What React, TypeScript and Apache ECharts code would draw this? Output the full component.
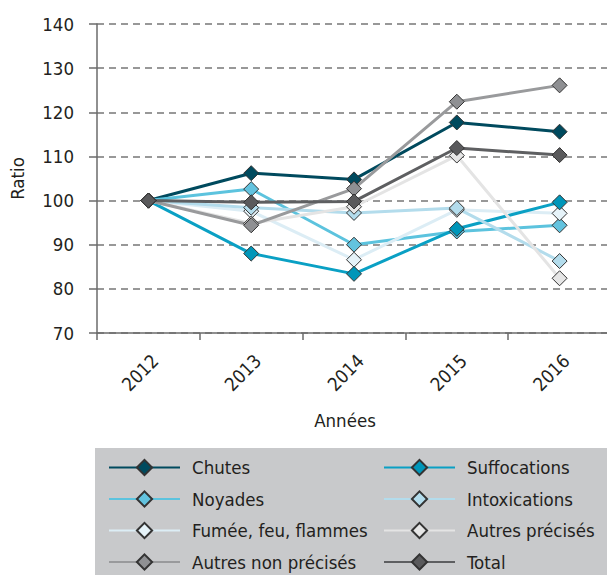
import React, { useEffect, useRef } from "react";
import * as echarts from "echarts";

const years = ["2012", "2013", "2014", "2015", "2016"];
const yTicks = { min: 70, max: 140, interval: 10 };

const chutes = [100, 106.2, 104.8, 117.7, 115.6];
const suffocations = [100, 88.0, 83.4, 93.6, 99.6];
const noyades = [100, 102.6, 90.0, 93.0, 94.4];
const intoxications = [100, 98.4, 97.2, 98.3, 86.3];
const fumee = [100, 97.6, 86.6, 97.9, 97.1];
const autresPrecises = [100, 94.8, 98.6, 110.2, 82.4];
const autresNonPrecises = [100, 94.4, 102.7, 122.4, 126.1];
const total = [100, 99.6, 99.8, 111.9, 110.3];

const FONT = "'DejaVu Sans Condensed', 'Liberation Sans', Arial, sans-serif";
const TXT = "#231f20";
const FS = 18.5;

type S = { name: string; data: number[]; line: string; fill: string; z: number };

const seriesDefs: S[] = [
  { name: "Chutes", data: chutes, line: "#004a5e", fill: "#004a5e", z: 2 },
  { name: "Noyades", data: noyades, line: "#5cc3de", fill: "#63c3df", z: 2 },
  { name: "Fumée, feu, flammes", data: fumee, line: "#dcedf5", fill: "#e6f3f9", z: 2 },
  { name: "Suffocations", data: suffocations, line: "#0aa0c4", fill: "#0096b9", z: 2 },
  { name: "Intoxications", data: intoxications, line: "#b3dcec", fill: "#b3dcec", z: 2 },
  { name: "Autres précisés", data: autresPrecises, line: "#e4e4e4", fill: "#e6e6e6", z: 2 },
  { name: "Autres non précisés", data: autresNonPrecises, line: "#999a9c", fill: "#8f9093", z: 2 },
  { name: "Total", data: total, line: "#5e5f61", fill: "#5a5a5c", z: 2 },
];

const leftLegend = ["Chutes", "Noyades", "Fumée, feu, flammes", "Autres non précisés"];
const rightLegend = ["Suffocations", "Intoxications", "Autres précisés", "Total"];

export default function App() {
  const ref = useRef<HTMLDivElement>(null);
  useEffect(() => {
    if (!ref.current) return;
    const chart = echarts.init(ref.current, null, { renderer: "svg" });
    const legendCommon = {
      orient: "vertical" as const,
      itemWidth: 71,
      itemHeight: 19,
      itemGap: 12.5,
      top: 453,
      height: 170,
      selectedMode: false,
      textStyle: { fontFamily: FONT, fontSize: FS, color: TXT, padding: [0, 0, 0, 7] },
    };
    chart.setOption({
      animation: false,
      backgroundColor: "#ffffff",
      graphic: [
        {
          type: "rect",
          shape: { x: 95, y: 448, width: 530, height: 200 },
          style: { fill: "#c8c9cb" },
          z: 0,
        },
      ],
      grid: { left: 94, right: 9, top: 24, bottom: 307 },
      legend: [
        { ...legendCommon, left: 103, data: leftLegend },
        { ...legendCommon, left: 378, data: rightLegend },
      ],
      xAxis: {
        type: "category",
        data: years,
        boundaryGap: true,
        name: "Années",
        nameLocation: "middle",
        nameGap: 78,
        nameTextStyle: { fontFamily: FONT, fontSize: FS, color: TXT, padding: [0, 18, 0, 0] },
        axisLine: { lineStyle: { color: "#6b6b6b", width: 1.5 } },
        axisTick: { show: true, length: 7, lineStyle: { color: "#6b6b6b", width: 1.5 } },
        axisLabel: {
          interval: 0,
          rotate: 45,
          margin: 18,
          verticalAlign: "top",
          fontFamily: FONT,
          fontSize: FS,
          color: TXT,
        },
      },
      yAxis: {
        type: "value",
        min: yTicks.min,
        max: yTicks.max,
        interval: yTicks.interval,
        name: "Ratio",
        nameLocation: "middle",
        nameRotate: 90,
        nameGap: 70,
        nameTextStyle: { fontFamily: FONT, fontSize: FS, color: TXT },
        axisLine: { show: true, lineStyle: { color: "#6b6b6b", width: 1.5 } },
        axisTick: { show: true, length: 8, lineStyle: { color: "#6b6b6b", width: 1.5 } },
        axisLabel: { margin: 23, fontFamily: FONT, fontSize: FS, color: TXT },
        splitLine: { show: true, lineStyle: { color: "#777777", width: 1.5, type: [7, 5] } },
      },
      series: seriesDefs.map((s) => ({
        name: s.name,
        type: "line",
        data: s.data,
        z: s.z,
        symbol: "diamond",
        symbolSize: 15,
        lineStyle: { color: s.line, width: 3 },
        itemStyle: { color: s.fill, borderColor: "#333333", borderWidth: 1 },
        emphasis: { disabled: true },
      })),
    });
    return () => chart.dispose();
  }, []);
  return (
    <div style={{ position: "fixed", left: 0, top: 0, width: 607, height: 575, overflow: "hidden" }}>
      <div ref={ref} style={{ width: 620, height: 640 }} />
    </div>
  );
}
